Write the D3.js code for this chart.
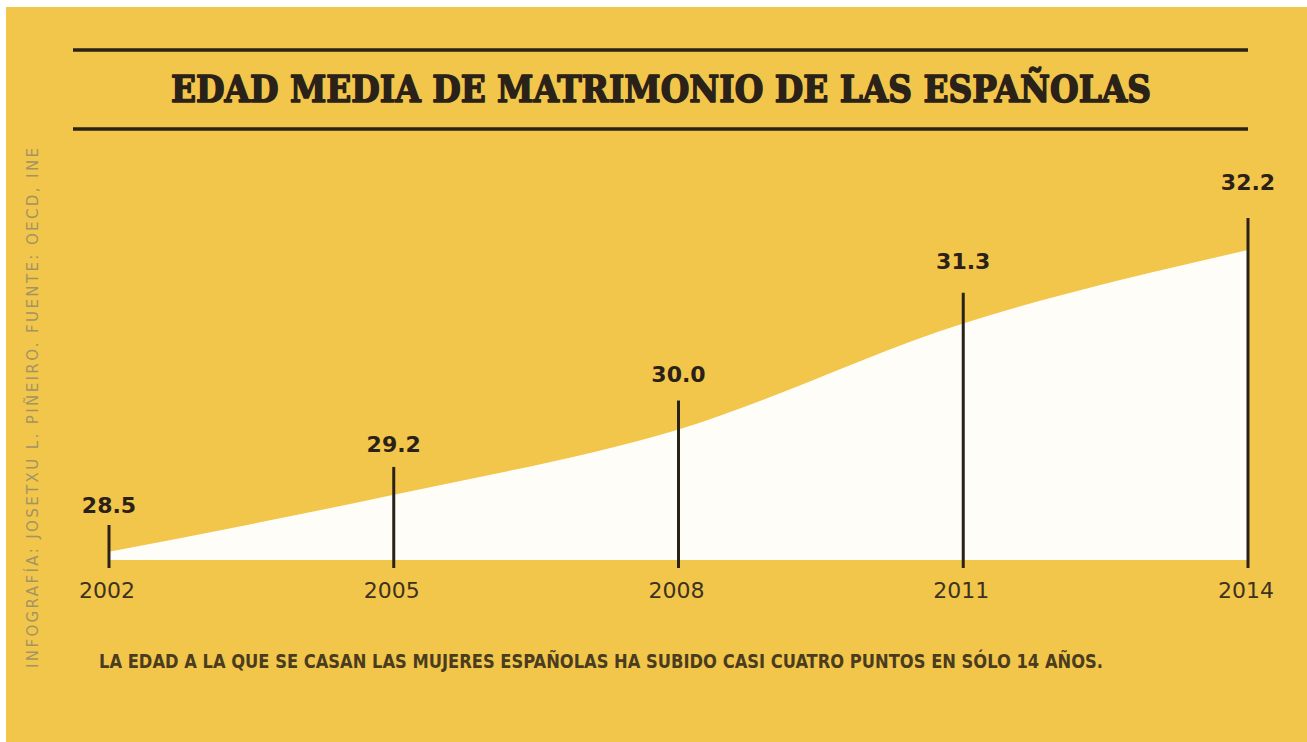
<!DOCTYPE html>
<html>
<head>
<meta charset="utf-8">
<script src="https://cdn.jsdelivr.net/npm/d3@7"></script>
<style>
  html, body { margin: 0; padding: 0; background: #fff; }
  svg { display: block; }
</style>
</head>
<body>
<svg id="chart" width="1307" height="742"></svg>
<script>
const years = [2002, 2005, 2008, 2011, 2014];
const ages = [28.5, 29.2, 30.0, 31.3, 32.2];
const yearLabels = ["2002", "2005", "2008", "2011", "2014"];
const ageLabels = ["28.5", "29.2", "30.0", "31.3", "32.2"];

const TITLE = "EDAD MEDIA DE MATRIMONIO DE LAS ESPAÑOLAS";
const CAPTION = "LA EDAD A LA QUE SE CASAN LAS MUJERES ESPAÑOLAS HA SUBIDO CASI CUATRO PUNTOS EN SÓLO 14 AÑOS.";
const CREDIT = "INFOGRAFÍA: JOSETXU L. PIÑEIRO. FUENTE: OECD, INE";

const YELLOW = "#f2c64b";
const INK = "#2a2119";

(function main() {
  const svg = d3.select("#chart");

  // yellow card, with the thin white margin of the scan at top/left
  svg.append("rect")
    .attr("x", 6).attr("y", 7)
    .attr("width", 1307 - 6).attr("height", 742 - 7)
    .attr("fill", YELLOW);

  // --- title block: two rules + slab-serif heading ---
  [50, 129].forEach(yy => {
    svg.append("line")
      .attr("x1", 73).attr("x2", 1248)
      .attr("y1", yy).attr("y2", yy)
      .attr("stroke", INK).attr("stroke-width", 3.5);
  });
  // DejaVu Serif Bold is the closest slab we have; a stroke fattens it up
  // towards the heavy display face of the original.
  svg.append("text")
    .attr("x", 171).attr("y", 102)
    .attr("textLength", 980).attr("lengthAdjust", "spacingAndGlyphs")
    .attr("font-family", "'DejaVu Serif', serif")
    .attr("font-weight", 900)
    .attr("font-size", 37)
    .attr("fill", INK)
    .attr("stroke", INK)
    .attr("stroke-width", 1.6)
    .attr("stroke-linejoin", "round")
    .text(TITLE);

  // --- scales ---
  const x = d3.scaleLinear().domain([2002, 2014]).range([109, 1248]);
  const y = d3.scaleLinear().domain([28.4, 32.2]).range([560, 250]);
  // stems and value labels sit on a slightly steeper ramp than the area
  const yStem = d3.scaleLinear().domain([28.5, 32.2]).range([525, 218]);
  const yLabel = d3.scaleLinear().domain([28.5, 32.2]).range([513, 190]);

  const rows = years.map((yr, i) => ({ year: yr, age: ages[i], yl: yearLabels[i], al: ageLabels[i] }));

  // --- white area ---
  const area = d3.area()
    .x(d => x(d.year))
    .y0(y(28.4))
    .y1(d => y(d.age))
    .curve(d3.curveMonotoneX);

  svg.append("path")
    .datum(rows)
    .attr("d", area)
    .attr("fill", "#fffdf8");

  // --- stems ---
  svg.append("g").selectAll("line")
    .data(rows)
    .join("line")
    .attr("x1", d => x(d.year)).attr("x2", d => x(d.year))
    .attr("y1", d => yStem(d.age))
    .attr("y2", 568)
    .attr("stroke", INK)
    .attr("stroke-width", 3);

  // --- value labels ---
  svg.append("g").selectAll("text")
    .data(rows)
    .join("text")
    .attr("x", d => x(d.year))
    .attr("y", d => yLabel(d.age))
    .attr("text-anchor", "middle")
    .attr("font-family", "'DejaVu Sans', sans-serif")
    .attr("font-weight", 700)
    .attr("font-size", 22)
    .attr("fill", INK)
    .text(d => d.al);

  // --- year labels ---
  svg.append("g").selectAll("text")
    .data(rows)
    .join("text")
    .attr("x", d => x(d.year) - 2)
    .attr("y", 598)
    .attr("text-anchor", "middle")
    .attr("font-family", "'DejaVu Sans', sans-serif")
    .attr("font-size", 22)
    .attr("fill", "#3d3220")
    .text(d => d.yl);

  // --- caption ---
  svg.append("text")
    .attr("x", 99).attr("y", 668)
    .attr("textLength", 1004).attr("lengthAdjust", "spacingAndGlyphs")
    .attr("font-family", "'Liberation Sans Narrow', 'DejaVu Sans Condensed', 'Roboto', sans-serif")
    .attr("font-weight", 700)
    .attr("font-size", 20)
    .attr("fill", "#4a3c1e")
    .text(CAPTION);

  // --- vertical credit line ---
  svg.append("text")
    .attr("transform", "translate(38,668) rotate(-90)")
    .attr("textLength", 520).attr("lengthAdjust", "spacing")
    .attr("font-family", "'DejaVu Sans', sans-serif")
    .attr("font-size", 15)
    .attr("fill", "#a39463")
    .text(CREDIT);
})();
</script>
</body>
</html>
